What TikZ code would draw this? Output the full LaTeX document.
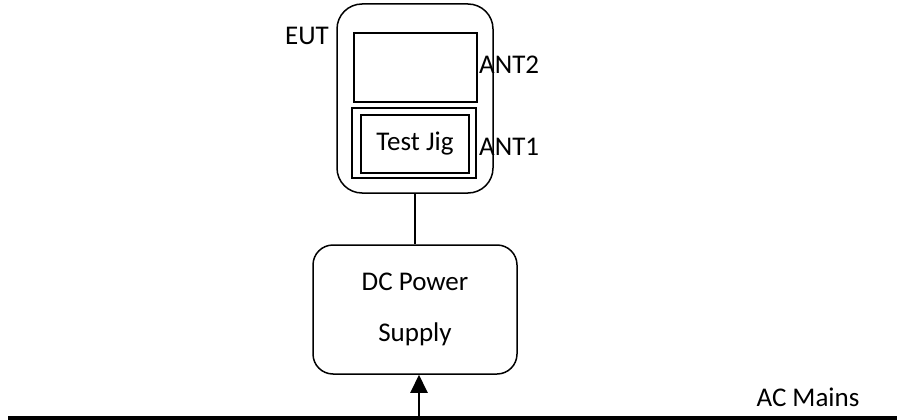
\documentclass[tikz,border=0pt]{standalone}
\usepackage{fontspec}
\setmainfont{Carlito}
\usetikzlibrary{arrows.meta,positioning}

\begin{document}
\begin{tikzpicture}[x=1pt,y=-1pt,font=\fontsize{27}{51}\selectfont,
		box/.style={draw,line width=1.5pt,inner sep=0pt},
		lbl/.style={inner sep=0pt}]
			\useasboundingbox (0,0) rectangle (897,420);
			% EUT
			\node [box,rounded corners=25pt,minimum width=156pt,minimum height=189pt] (eut) at (415,98.5) {};
			\node [box,minimum width=123pt,minimum height=69pt] (scr) at (415.5,67.5) {};
			\node [box,minimum width=124pt,minimum height=70pt] (jigo) at (414,143) {};
			\node [box,minimum width=108pt,minimum height=58pt] (jig) at (415,144) {Test Jig};
			\node [lbl,anchor=east] (l1) at (329,36) {EUT};
			\node [lbl,anchor=west] (a2) at (479,65) {ANT2};
			\node [lbl,anchor=west] (a1) at (479,147) {ANT1};
			%
			\node [box,rounded corners=20pt,minimum width=204pt,minimum height=129pt,align=center] (dc) at (415,309.5) {DC Power\\Supply};
			\draw [line width=1.5pt] (eut) -- (dc);
			% mains
			\coordinate (m1) at (8,418);
			\coordinate (m2) at (897,418);
			\coordinate (acin) at (419,418);
			\draw [line width=4pt] (m1) -- (m2);
			\draw [line width=2pt,-{Triangle[width=17pt,length=18pt]}] (acin) -- (acin |- dc.south);
			\node [lbl] (ac) at (808,397) {AC Mains};
		\end{tikzpicture}
\end{document}
